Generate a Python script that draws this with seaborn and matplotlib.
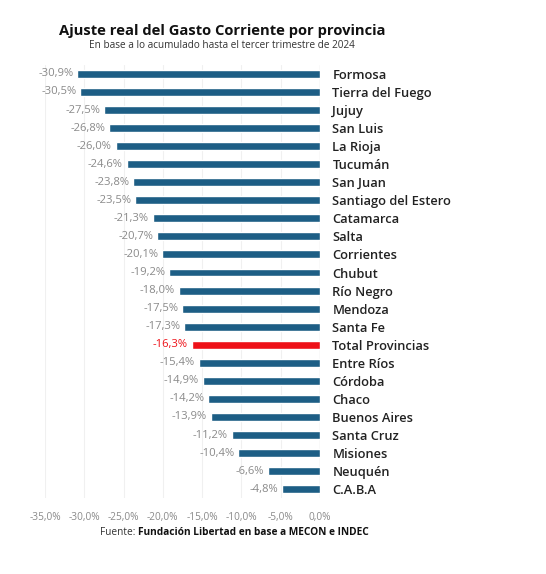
import pandas as pd
import matplotlib.pyplot as plt
import seaborn as sns
import numpy as np

# Data
provincias = ['Formosa', 'Tierra del Fuego', 'Jujuy', 'San Luis', 'La Rioja',
              'Tucumán', 'San Juan', 'Santiago del Estero', 'Catamarca', 'Salta',
              'Corrientes', 'Chubut', 'Río Negro', 'Mendoza', 'Santa Fe',
              'Total Provincias', 'Entre Ríos', 'Córdoba', 'Chaco', 'Buenos Aires',
              'Santa Cruz', 'Misiones', 'Neuquén', 'C.A.B.A']
ajuste = [-30.9, -30.5, -27.5, -26.8, -26.0, -24.6, -23.8, -23.5, -21.3, -20.7,
          -20.1, -19.2, -18.0, -17.5, -17.3, -16.3, -15.4, -14.9, -14.2, -13.9,
          -11.2, -10.4, -6.6, -4.8]
xticks = [-35, -30, -25, -20, -15, -10, -5, 0]

df = pd.DataFrame({'Provincia': provincias, 'Ajuste': ajuste})
df['Tipo'] = np.where(df['Provincia'] == 'Total Provincias', 'total', 'prov')

BLUE = '#1d5e85'
RED = '#ee1118'

sns.set_style('white')
plt.rcParams['font.family'] = ['Open Sans', 'DejaVu Sans']

fig = plt.figure(figsize=(5.46, 5.74), dpi=100)
ax = fig.add_axes([0.0824, 0.132, 0.5036, 0.755])

sns.barplot(data=df, x='Ajuste', y='Provincia', hue='Tipo',
            palette={'prov': BLUE, 'total': RED}, width=0.44, saturation=1,
            legend=False, ax=ax, orient='h')

ax.set_xlim(-35, 0)
ax.set_ylim(len(provincias) - 0.5, -0.5)
ax.set_xticks(xticks)
ax.set_xticklabels([f'{t:.1f}%'.replace('.', ',') for t in xticks],
                   fontsize=7.3, color='#8a8a8a')
ax.tick_params(axis='x', length=0, pad=10)

ax.yaxis.tick_right()
ax.tick_params(axis='y', length=0, pad=9, labelsize=9.3, labelcolor='#222222')
for lab in ax.get_yticklabels():
    lab.set_fontweight('semibold')
ax.set_xlabel('')
ax.set_ylabel('')

for s in ax.spines.values():
    s.set_visible(False)
ax.grid(axis='x', color='#f0f0f0', linewidth=0.8)
ax.set_axisbelow(True)
ax.axvline(0, color='#d8d8d8', linewidth=0.9, zorder=0)

# value labels at the end of each bar
for i, (p, v) in enumerate(zip(provincias, ajuste)):
    c = RED if p == 'Total Provincias' else '#8a8a8a'
    ax.text(v - 0.5, i, f'{v:.1f}%'.replace('.', ','), ha='right', va='center',
            fontsize=8.1, color=c)

fig.text(0.407, 0.946, 'Ajuste real del Gasto Corriente por provincia',
         ha='center', va='center', fontsize=10.6, fontweight='bold', color='#111111')
fig.text(0.407, 0.921, 'En base a lo acumulado hasta el tercer trimestre de 2024',
         ha='center', va='center', fontsize=7.2, color='#333333')

t1 = fig.text(0.183, 0.073, 'Fuente: ', ha='left', va='center', fontsize=7.3, color='#333333')
fig.canvas.draw()
bb = t1.get_window_extent()
x2 = bb.x1 / fig.bbox.width
fig.text(x2, 0.073, 'Fundación Libertad en base a MECON e INDEC', ha='left', va='center',
         fontsize=7.3, fontweight='bold', color='#111111')

fig.savefig('out.png', dpi=100)
